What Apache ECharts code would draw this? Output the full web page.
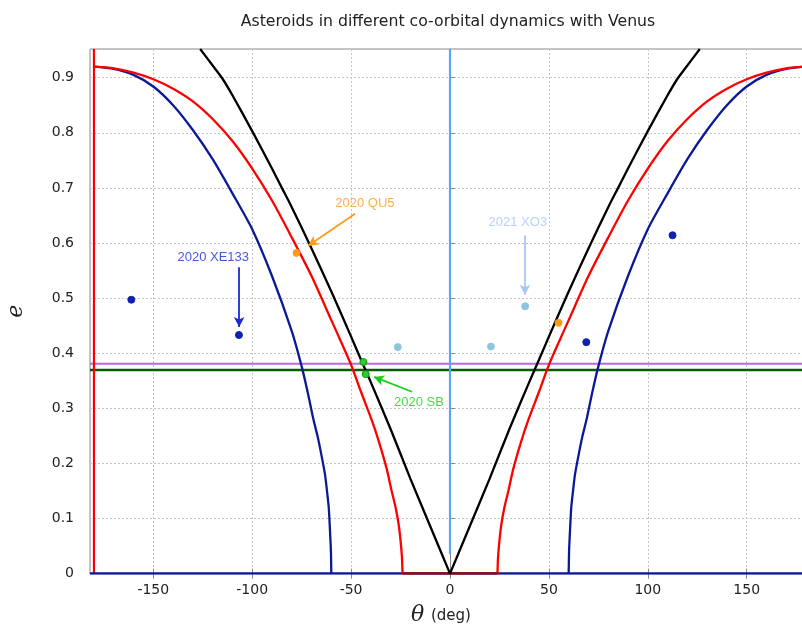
<!DOCTYPE html>
<html>
<head>
<meta charset="utf-8">
<script src="https://cdn.jsdelivr.net/npm/echarts@6/dist/echarts.min.js"></script>
<style>
  html, body { margin: 0; padding: 0; background: #fff; }
  #chart { width: 802px; height: 626px; }
</style>
</head>
<body>
<div id="chart"></div>
<script>
// tick labels
const xTicks = [-150, -100, -50, 0, 50, 100, 150];

// black curve (V shape)
const blackLeft = [[-126.3, 0.952], [-120, 0.922], [-115, 0.898], [-110, 0.868], [-100, 0.803], [-90, 0.735], [-85, 0.7], [-80, 0.665], [-70, 0.59], [-60, 0.512], [-50, 0.43], [-44, 0.38], [-40, 0.347], [-30, 0.262], [-20, 0.172], [-10, 0.086], [0, 0]];
const blackRight = [[0, 0], [10, 0.086], [20, 0.172], [30, 0.262], [40, 0.347], [44, 0.38], [50, 0.43], [60, 0.512], [70, 0.59], [80, 0.665], [85, 0.7], [90, 0.735], [100, 0.803], [110, 0.868], [115, 0.898], [120, 0.922], [126.3, 0.952]];

// red curve
const redLeft = [[-180, 0.92], [-170, 0.917], [-160, 0.909], [-150, 0.897], [-140, 0.88], [-130, 0.857], [-120, 0.825], [-110, 0.785], [-100, 0.735], [-90, 0.677], [-80, 0.61], [-70, 0.54], [-60, 0.46], [-55, 0.42], [-49.7, 0.376], [-45, 0.33], [-39.6, 0.279], [-36, 0.24], [-32, 0.19], [-29.5, 0.15], [-27.5, 0.12], [-26, 0.09], [-25, 0.06], [-24.3, 0.03], [-24, 0]];
const redRight = [[24, 0], [24.3, 0.03], [25, 0.06], [26, 0.09], [27.5, 0.12], [29.5, 0.15], [32, 0.19], [36, 0.24], [39.6, 0.279], [45, 0.33], [49.7, 0.376], [55, 0.42], [60, 0.46], [70, 0.54], [80, 0.61], [90, 0.677], [100, 0.735], [110, 0.785], [120, 0.825], [130, 0.857], [140, 0.88], [150, 0.897], [160, 0.909], [170, 0.917], [180, 0.92]];
const redBottom = [[-24, 0], [24, 0]];

// blue curve
const blueLeft = [[-180, 0.92], [-170, 0.916], [-160, 0.905], [-150, 0.884], [-140, 0.85], [-130, 0.805], [-120, 0.752], [-110, 0.69], [-100, 0.625], [-90, 0.54], [-80, 0.44], [-75, 0.376], [-72, 0.33], [-69, 0.279], [-67, 0.25], [-65, 0.215], [-63.2, 0.18], [-62.2, 0.15], [-61.3, 0.12], [-60.7, 0.08], [-60.2, 0.04], [-60, 0]];
const blueRight = [[60, 0], [60.2, 0.04], [60.7, 0.08], [61.3, 0.12], [62.2, 0.15], [63.2, 0.18], [65, 0.215], [67, 0.25], [69, 0.279], [72, 0.33], [75, 0.376], [80, 0.44], [90, 0.54], [100, 0.625], [110, 0.69], [120, 0.752], [130, 0.805], [140, 0.85], [150, 0.884], [160, 0.905], [170, 0.916], [180, 0.92]];
const baseLine = [[-182, 0], [182, 0]];

// straight reference lines
const redVertical = [[-180, 0], [-180, 0.952]];
const blueVertical = [[0, 0.035], [0, 0.952]];
const purpleLevel = [[-182, 0.381], [182, 0.381]];
const greenLevel = [[-182, 0.3695], [182, 0.3695]];

// asteroids
const navyPts = [[-161.1, 0.497], [-106.7, 0.433], [68.9, 0.42], [112.5, 0.614]];
const lightPts = [[-26.4, 0.411], [20.7, 0.412], [38.0, 0.485]];
const orangePts = [[-77.6, 0.582], [54.9, 0.455]];
const greenPts = [[-43.8, 0.384], [-42.6, 0.362]];

// annotations: name, text position, arrow tail, arrow tip
const labelNames = ['2020 QU5', '2020 XE133', '2021 XO3', '2020 SB'];
const labelPos = [[-43, 0.671], [-119.7, 0.5746], [34.3, 0.638], [-15.7, 0.311]];
const arrowFrom = [[-48, 0.653], [-106.6, 0.556], [37.9, 0.614], [-19.2, 0.33]];
const arrowTo = [[-71.7, 0.595], [-106.6, 0.4475], [37.9, 0.506], [-38.4, 0.357]];
const labelColors = ['#ff9a1a', '#1a2ad0', '#a8c6f6', '#1ccc1c'];

const chart = echarts.init(document.getElementById('chart'));

function lineSeries(data, color, width, z, smooth) {
  return {
    type: 'line',
    data: data,
    showSymbol: false,
    symbol: 'none',
    silent: true,
    smooth: smooth ? 0.25 : false,
    z: z || 2,
    lineStyle: { color: color, width: width || 2 }
  };
}

function dotSeries(data, color, border) {
  return {
    type: 'scatter',
    data: data,
    symbolSize: 7,
    z: 5,
    itemStyle: { color: color, borderColor: border || color, borderWidth: 1, opacity: 1 }
  };
}

const option = {
  animation: false,
  title: {
    text: 'Asteroids in different co-orbital dynamics with Venus',
    left: 443,
    top: 9,
    textAlign: 'center',
    textStyle: { fontFamily: 'DejaVu Sans', fontSize: 15.7, fontWeight: 'normal', color: '#222' }
  },
  grid: {
    left: 90,
    top: 49,
    width: 720,
    height: 524.6,
    outerBoundsMode: 'none',
    containLabel: false,
    show: true,
    borderColor: '#888',
    borderWidth: 1
  },
  xAxis: [
    {
      type: 'value',
      min: -182,
      max: 182,
      name: '{t|θ}  {d|(deg)}',
      nameLocation: 'middle',
      nameGap: 31,
      nameTextStyle: {
        rich: {
          t: { fontFamily: 'DejaVu Serif', fontStyle: 'italic', fontSize: 22, color: '#222', padding: [0, 0, 2, 0] },
          d: { fontFamily: 'DejaVu Sans', fontSize: 15, color: '#222' }
        },
        padding: [0, 18, 0, 0]
      },
      axisLine: { show: true, onZero: false, lineStyle: { color: '#888' } },
      axisTick: { show: true, inside: true, length: 5, customValues: xTicks, lineStyle: { color: '#888' } },
      axisLabel: { customValues: xTicks, fontFamily: 'DejaVu Sans', fontSize: 14, color: '#222', margin: 10 },
      splitLine: { show: true, lineStyle: { color: '#c4c4c4', type: [2, 2], width: 1 } }
    },
    {
      type: 'value',
      position: 'top',
      min: -182,
      max: 182,
      axisLine: { show: true, lineStyle: { color: '#888' } },
      axisTick: { show: true, inside: true, length: 5, customValues: xTicks, lineStyle: { color: '#888' } },
      axisLabel: { show: false },
      splitLine: { show: false }
    }
  ],
  yAxis: {
    type: 'value',
    min: 0,
    max: 0.952,
    interval: 0.1,
    name: 'e',
    nameLocation: 'middle',
    nameGap: 63,
    nameTextStyle: { fontFamily: 'DejaVu Serif', fontStyle: 'italic', fontSize: 22, color: '#222' },
    axisLine: { show: true, lineStyle: { color: '#888' } },
    axisTick: { show: true, inside: true, length: 5, lineStyle: { color: '#888' } },
    axisLabel: { fontFamily: 'DejaVu Sans', fontSize: 14, color: '#222', margin: 16, showMaxLabel: false },
    splitLine: { show: true, lineStyle: { color: '#c4c4c4', type: [2, 2], width: 1 } }
  },
  series: [
    lineSeries(purpleLevel, '#b46ae4', 2, 2),
    lineSeries(greenLevel, '#0b5a0b', 2.5, 2),
    lineSeries(blueVertical, '#5aa6f2', 2.2, 2),
    lineSeries(redVertical, '#ff0000', 2.2, 3),
    lineSeries(blueLeft, '#0a1a96', 2.3, 3, true),
    lineSeries(blueRight, '#0a1a96', 2.3, 3, true),
    lineSeries(baseLine, '#0a1a96', 2.5, 3),
    lineSeries(redLeft, '#ff0000', 2.3, 3, true),
    lineSeries(redRight, '#ff0000', 2.3, 3, true),
    lineSeries(redBottom, '#a00000', 2.5, 3),
    lineSeries(blackLeft, '#000000', 2.3, 3, true),
    lineSeries(blackRight, '#000000', 2.3, 3, true),
    dotSeries(navyPts, '#1020b0'),
    dotSeries(lightPts, '#8ec5de'),
    dotSeries(orangePts, '#ff9a1a'),
    dotSeries(greenPts, '#2ccc2c', '#109010'),
    {
      type: 'scatter',
      symbolSize: 0,
      z: 6,
      data: labelNames.map((n, i) => ({
        value: labelPos[i],
        name: n,
        label: { color: labelColors[i] }
      })),
      label: {
        show: true,
        position: 'inside',
        formatter: (p) => p.name,
        fontFamily: 'Liberation Sans',
        fontSize: 13
      },
      markLine: {
        silent: true,
        symbol: ['none', 'arrow'],
        symbolSize: [8, 10],
        label: { show: false },
        data: labelNames.map((n, i) => [
          { coord: arrowFrom[i], lineStyle: { color: labelColors[i], width: 1.8, type: 'solid' } },
          { coord: arrowTo[i] }
        ])
      }
    }
  ]
};

chart.setOption(option);
</script>
</body>
</html>
